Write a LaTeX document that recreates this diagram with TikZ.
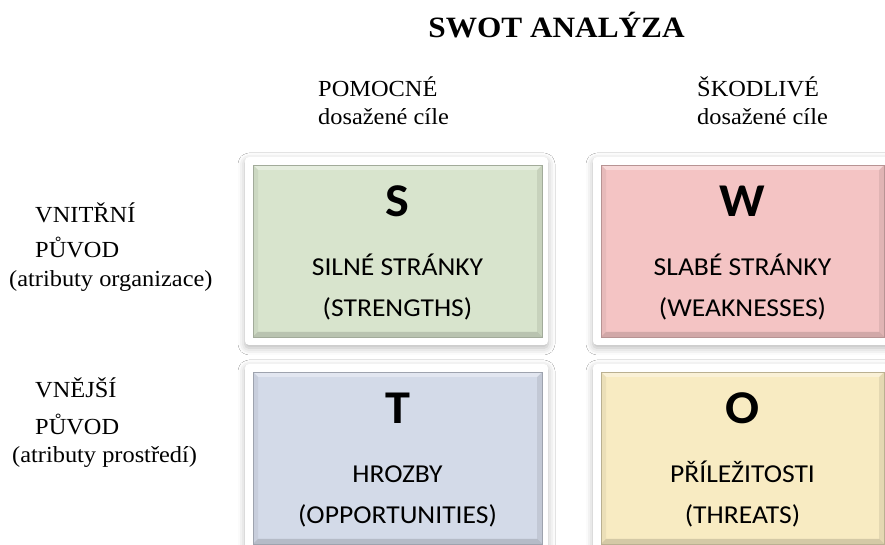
\documentclass[tikz,border=0pt]{standalone}
\usepackage{fontspec}
\setmainfont{Liberation Serif}[FakeStretch=1.06]
\newfontfamily\boxfont{Carlito}[FakeStretch=1.07]
\usetikzlibrary{shadows.blur}
\definecolor{sgreen}{RGB}{216,228,205}
\definecolor{wpink}{RGB}{244,196,196}
\definecolor{tblue}{RGB}{211,218,232}
\definecolor{oyellow}{RGB}{248,235,194}
\tikzset{
  frame/.style={rectangle, rounded corners=4pt, fill=white, inner sep=0pt, outer sep=0pt,
    blur shadow={shadow xshift=0pt, shadow yshift=-3pt, shadow blur radius=7pt, shadow opacity=28}},
  bevel/.style={rectangle, inner sep=0pt, outer sep=0pt, fill=#1, draw=#1!75!black, line width=0.5pt,
    path picture={
      \path (path picture bounding box.south west) coordinate (bsw)
            (path picture bounding box.south east) coordinate (bse)
            (path picture bounding box.north east) coordinate (bne)
            (path picture bounding box.north west) coordinate (bnw);
      \fill[black,opacity=.14] (bsw) -- (bse) -- ([shift={(-5pt,5pt)}]bse) -- ([shift={(5pt,5pt)}]bsw) -- cycle;
      \fill[black,opacity=.08] (bse) -- (bne) -- ([shift={(-5pt,-5pt)}]bne) -- ([shift={(-5pt,5pt)}]bse) -- cycle;
      \fill[white,opacity=.35] (bne) -- (bnw) -- ([shift={(5pt,-5pt)}]bnw) -- ([shift={(-5pt,-5pt)}]bne) -- cycle;
      \fill[black,opacity=.05] (bnw) -- (bsw) -- ([shift={(5pt,5pt)}]bsw) -- ([shift={(5pt,-5pt)}]bnw) -- cycle;
    }},
  letter/.style={anchor=base, font=\boxfont\bfseries\fontsize{47}{52}\selectfont, inner sep=0pt},
  boxtext/.style={anchor=base, font=\boxfont\fontsize{25.8}{30}\selectfont, inner sep=0pt},
  label/.style={anchor=base west, font=\fontsize{23}{27}\selectfont, inner sep=0pt},
  title/.style={anchor=base, font=\bfseries\fontsize{29.5}{34}\selectfont, inner sep=0pt}
}
\begin{document}
\begin{tikzpicture}[x=1pt,y=1pt]
\useasboundingbox[fill=white] (0,0) rectangle (885,545);
% title and headers
\node[title] (title) at (556.5,507) {SWOT ANALÝZA};
\node[label] (pom) at (318,448) {POMOCNÉ};
\node[label] (pomc) at (318,420) {dosažené cíle};
\node[label] (sko) at (697,448) {ŠKODLIVÉ};
\node[label] (skoc) at (697,420) {dosažené cíle};
% row labels
\node[label] (vn1) at (35,322) {VNITŘNÍ};
\node[label] (vn2) at (35,287) {PŮVOD};
\node[label] (vn3) at (9,258) {(atributy organizace)};
\node[label] (ve1) at (35,147) {VNĚJŠÍ};
\node[label] (ve2) at (35,110) {PŮVOD};
\node[label] (ve3) at (12,82) {(atributy prostředí)};
% frames
\node[frame, minimum width=303pt, minimum height=188pt] (sframe) at (396.5,294) {};
\node[frame, minimum width=299pt, minimum height=188pt] (wframe) at (742.5,294) {};
\node[frame, minimum width=303pt, minimum height=188pt] (tframe) at (396.5,87) {};
\node[frame, minimum width=299pt, minimum height=188pt] (oframe) at (742.5,87) {};
% coloured boxes
\node[bevel=sgreen, minimum width=289pt, minimum height=172pt] (sbox) at (397.5,294) {};
\node[bevel=wpink, minimum width=283pt, minimum height=172pt] (wbox) at (742.5,294) {};
\node[bevel=tblue, minimum width=289pt, minimum height=172pt] (tbox) at (397.5,87) {};
\node[bevel=oyellow, minimum width=283pt, minimum height=172pt] (obox) at (742.5,87) {};
% S
\node[letter] (sl) at (397.5,328) {S};
\node[boxtext] (s1) at (397.5,269) {SILNÉ STRÁNKY};
\node[boxtext] (s2) at (397.5,228) {(STRENGTHS)};
% W
\node[letter] (wl) at (742.5,328) {W};
\node[boxtext] (w1) at (742.5,269) {SLABÉ STRÁNKY};
\node[boxtext] (w2) at (742.5,228) {(WEAKNESSES)};
% T
\node[letter] (tl) at (397.5,121) {T};
\node[boxtext] (t1) at (397.5,62) {HROZBY};
\node[boxtext] (t2) at (397.5,21) {(OPPORTUNITIES)};
% O
\node[letter] (ol) at (742.5,121) {O};
\node[boxtext] (o1) at (742.5,62) {PŘÍLEŽITOSTI};
\node[boxtext] (o2) at (742.5,21) {(THREATS)};
\end{tikzpicture}
\end{document}
